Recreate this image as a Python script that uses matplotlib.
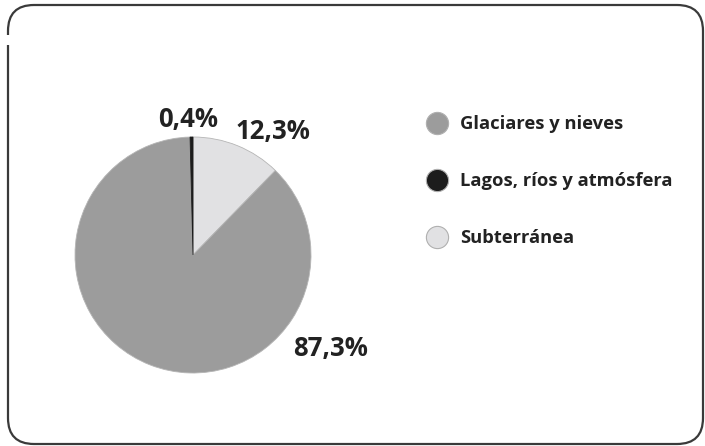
import numpy as np
from matplotlib import pyplot as plt
from matplotlib.patches import FancyBboxPatch, Rectangle
from matplotlib.lines import Line2D
from matplotlib.transforms import IdentityTransform

categories = ['Subterránea', 'Glaciares y nieves', 'Lagos, ríos y atmósfera']
values = [12.3, 87.3, 0.4]
labels = ['12,3%', '87,3%', '0,4%']
colors = ['#e1e1e3', '#9c9c9c', '#1c1c1c']
legend_order = [1, 2, 0]

plt.rcParams['font.family'] = ['Open Sans', 'DejaVu Sans']

fig = plt.figure(figsize=(7.05, 4.46), dpi=100)

# frame with rounded corners, in pixels
frame = FancyBboxPatch((8, 2), 695, 439, boxstyle='round,pad=0,rounding_size=26',
                       transform=IdentityTransform(), fill=False,
                       edgecolor='#3a3a3a', linewidth=1.6)
fig.patches.append(frame)
fig.patches.append(Rectangle((4, 401), 9, 10, transform=IdentityTransform(),
                             facecolor='white', edgecolor='none', zorder=5))

ax = fig.add_axes([43 / 705, 41 / 446, 300 / 705, 300 / 446])
lim = 150 / 118
wedges, _ = ax.pie(values, colors=colors, startangle=90, counterclock=False,
                   radius=1, wedgeprops=dict(edgecolor='#b5b5b5', linewidth=0.6))
wedges[2].set_edgecolor('#1c1c1c')
ax.set_xlim(-lim, lim)
ax.set_ylim(-lim, lim)
ax.set_aspect('equal')
ax.axis('off')

# label spots, in units of the pie radius
label_pos = [(0.68, 1.05), (1.17, -0.79), (-0.04, 1.15)]
for lab, (x, y) in zip(labels, label_pos):
    ax.text(x, y, lab, ha='center', va='center', fontsize=18.5,
            fontweight='bold', color='#222222')

handles = [Line2D([], [], marker='o', linestyle='none', markersize=16,
                  markerfacecolor=colors[i], markeredgecolor='#b0b0b0',
                  markeredgewidth=0.8) for i in legend_order]
fig.legend(handles, [categories[i] for i in legend_order],
           loc='upper left', bbox_to_anchor=(426 / 705, 1 - 115 / 446),
           frameon=False, labelspacing=2.13, handletextpad=0.65,
           handlelength=1.2, borderpad=0, borderaxespad=0,
           prop=dict(weight='bold', size=13.2))
for t in fig.legends[0].get_texts():
    t.set_color('#222222')

fig.savefig('out.png', dpi=100)
